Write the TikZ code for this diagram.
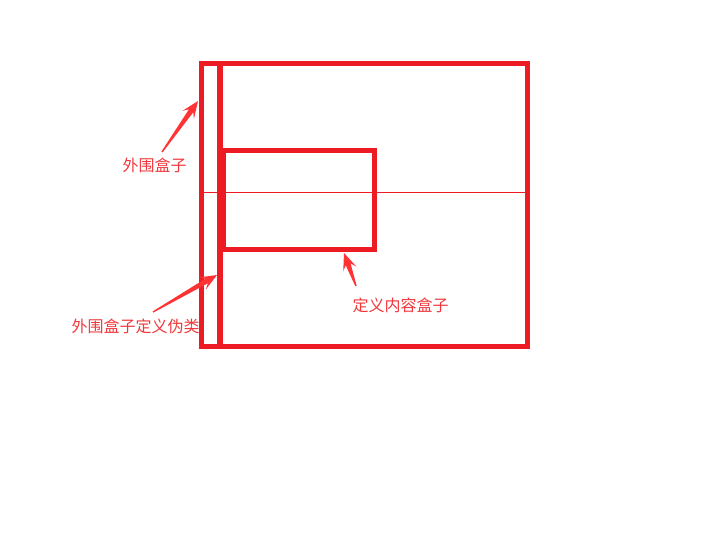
\documentclass[tikz,border=0pt]{standalone}
\usepackage{fontspec}
\newfontfamily\cjk{Noto Sans CJK SC}
\usetikzlibrary{calc}
\definecolor{boxred}{HTML}{ED1C24}
\definecolor{arrowred}{HTML}{FF3333}
\definecolor{textred}{HTML}{F0383C}
\newcommand\taperarrow[2]{%
  \fill[arrowred] ($(#1)!0.7pt!90:(#2)$)
    -- ($(#2)!12pt!(#1)!2.6pt!-90:(#1)$)
    -- ($(#2)!17pt!(#1)!7pt!-90:(#1)$)
    -- (#2)
    -- ($(#2)!17pt!(#1)!7pt!90:(#1)$)
    -- ($(#2)!12pt!(#1)!2.6pt!90:(#1)$)
    -- ($(#1)!0.7pt!-90:(#2)$) -- cycle;}
\tikzset{
  boxline/.style={draw=boxred, line width=5pt},
  barline/.style={draw=boxred, line width=6pt},
  thinline/.style={draw=boxred, line width=1pt},
  lbl/.style={text=textred, font=\cjk\fontsize{16}{17}\selectfont, inner sep=0pt}
}
\begin{document}
\begin{tikzpicture}[x=1pt, y=-1pt]
\useasboundingbox (0,0) rectangle (706,536);
% thin middle line
\draw[thinline] (201.5,192) -- (527.5,192);
% outer box
\draw[boxline] (201.5,63.5) rectangle (527.5,346.5);
% pseudo-element bar
\draw[barline] (219.7,63.5) -- (219.7,346.5);
% content box
\draw[boxline] (223,150) rectangle (374,249);
% labels
\node[lbl] (l1) at (154.5,165) {外围盒子};
\node[lbl] (l2) at (135.5,326) {外围盒子定义伪类};
\node[lbl] (l3) at (400.5,305.5) {定义内容盒子};
% arrow ends
\coordinate (t1) at (162,152);
\coordinate (h1) at (198,101);
\coordinate (t2) at (153,312);
\coordinate (h2) at (217,275);
\coordinate (t3) at (356,286);
\coordinate (h3) at (344,253);
\taperarrow{t1}{h1}
\taperarrow{t2}{h2}
\taperarrow{t3}{h3}
\end{tikzpicture}
\end{document}
